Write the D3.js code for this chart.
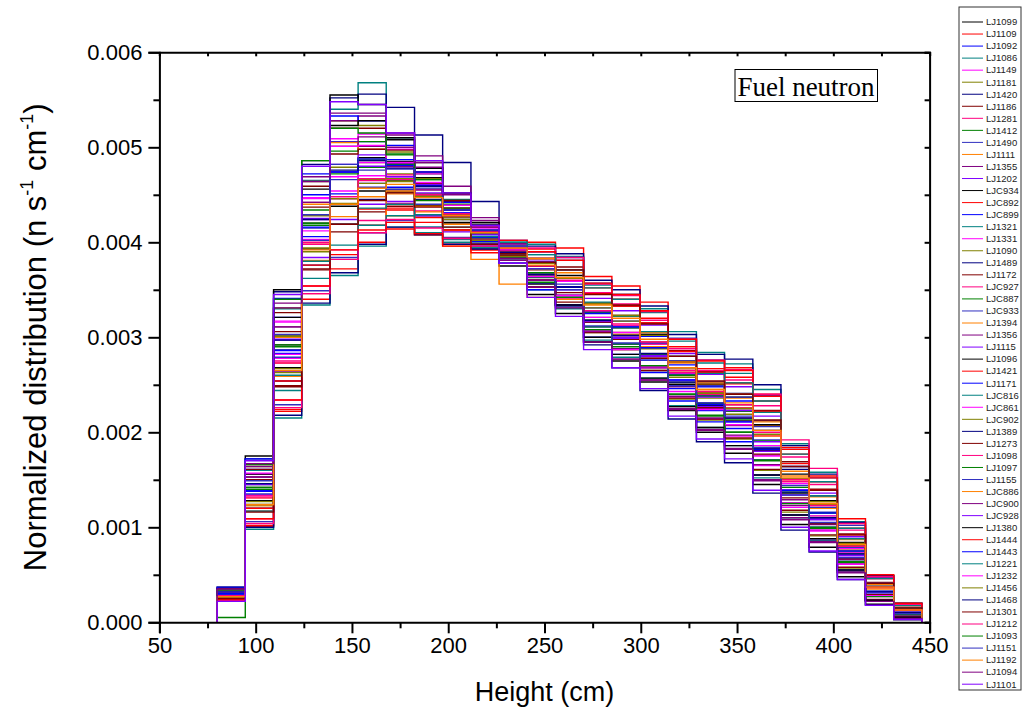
<!DOCTYPE html>
<html>
<head>
<meta charset="utf-8">
<script src="https://cdn.jsdelivr.net/npm/d3@7"></script>
<style>
  body { margin: 0; background: #fff; }
  svg { display: block; font-family: 'Liberation Sans', Arial, sans-serif; }
</style>
</head>
<body>
<svg id="chart" width="1023" height="712"></svg>
<script>
// bin edges (cm)
const binEdges = [80, 94.6, 109.3, 123.9, 138.6, 153.2, 167.8, 182.5, 197.1, 211.8, 226.4, 241.0, 255.7,
  270.3, 285.0, 299.6, 314.2, 328.9, 343.5, 358.2, 372.8, 387.4, 402.1, 416.7, 431.4, 446.0];

const seriesNames = ['LJ1099','LJ1109','LJ1092','LJ1086','LJ1149','LJ1181','LJ1420','LJ1186','LJ1281','LJ1412',
  'LJ1490','LJ1111','LJ1355','LJ1202','LJC934','LJC892','LJC899','LJ1321','LJ1331','LJ1090','LJ1489','LJ1172',
  'LJC927','LJC887','LJC933','LJ1394','LJ1356','LJ1115','LJ1096','LJ1421','LJ1171','LJC816','LJC861','LJC902',
  'LJ1389','LJ1273','LJ1098','LJ1097','LJ1155','LJC886','LJC900','LJC928','LJ1380','LJ1444','LJ1443','LJ1221',
  'LJ1232','LJ1456','LJ1468','LJ1301','LJ1212','LJ1093','LJ1151','LJ1192','LJ1094','LJ1101'];

const colorCycle = ['#000000','#ff0000','#0000ff','#008080','#ff00ff','#808000','#000080',
  '#800000','#ff0080','#008000','#3030c0','#ff8000','#800080','#8000ff'];

// normalized distribution per bin, in units of 1e-5 n s^-1 cm^-1
const distribution = [
  [31,142,292,420,474,489,485,468,443,419,394,368,353,316,300,280,250,228,212,181,136,109,71,32,10],
  [24,102,222,340,372,400,414,408,398,392,398,400,394,364,354,337,298,276,268,240,184,154,104,48,19],
  [35,161,321,450,506,506,487,462,434,408,381,357,344,311,293,276,246,223,204,171,126,100,64,28,8],
  [34,160,330,465,540,568,510,478,445,412,378,350,330,297,279,257,228,205,186,152,110,86,53,22,5],
  [28,134,278,403,454,470,469,449,427,406,391,375,359,326,312,293,262,239,225,196,146,120,78,36,12],
  [35,164,331,464,528,523,495,467,435,406,378,353,334,305,287,265,235,213,193,160,116,91,57,23,5],
  [36,172,348,482,552,556,542,513,484,443,402,360,332,292,268,244,214,190,168,136,97,74,45,18,3],
  [26,117,249,371,411,432,438,428,413,402,394,383,374,346,333,315,286,264,252,223,169,140,93,42,16],
  [24,109,234,354,392,423,441,433,420,409,402,390,381,347,335,318,288,265,255,228,174,145,97,46,18],
  [31,145,301,434,496,506,493,472,444,418,391,363,344,311,293,270,240,217,200,171,126,100,64,28,8],
  [31,139,287,415,466,476,467,451,428,409,389,368,356,326,310,290,261,239,223,192,144,116,76,33,11],
  [28,131,273,398,446,457,451,432,412,396,386,375,362,336,322,303,273,250,236,207,154,127,83,37,13],
  [35,164,331,464,528,533,515,491,459,426,388,353,334,295,277,255,225,203,183,150,110,85,53,23,5],
  [28,128,264,384,424,440,443,428,411,397,389,380,371,341,328,313,283,261,248,217,164,136,90,41,15],
  [37,175,350,486,555,545,510,478,443,410,375,345,325,295,275,253,223,200,178,145,103,79,48,19,3],
  [22,101,224,346,387,418,434,426,413,404,402,393,381,352,340,320,290,267,258,233,177,148,99,46,18],
  [30,139,283,406,451,462,458,439,419,401,386,372,362,331,317,301,271,248,233,202,151,124,81,37,13],
  [22,98,215,334,365,396,416,410,400,395,400,398,385,355,345,330,306,284,272,245,188,158,106,49,20],
  [33,156,316,447,509,514,498,472,442,413,386,360,341,306,288,268,237,214,196,165,121,96,61,27,7],
  [33,150,302,428,479,484,472,451,426,404,384,365,353,321,305,288,258,236,219,186,139,112,73,32,10],
  [26,120,254,376,419,445,456,445,428,412,399,383,371,336,323,305,275,253,241,212,161,133,88,41,15],
  [35,161,326,459,520,520,497,474,444,416,383,353,337,305,287,265,236,214,194,161,118,92,58,24,6],
  [28,131,273,398,446,467,471,456,436,416,396,375,362,326,312,293,263,240,226,197,148,121,79,37,13],
  [31,142,292,420,474,479,465,444,419,399,384,368,353,326,310,290,260,238,222,191,142,115,75,32,10],
  [24,106,229,349,384,410,423,416,405,399,397,390,384,357,345,328,299,276,266,239,182,152,102,47,19],
  [30,150,300,440,505,498,428,408,396,382,356,342,340,318,303,290,265,245,225,196,150,120,76,35,10],
  [33,153,311,442,501,501,480,455,427,403,381,360,344,316,298,278,248,225,207,176,129,103,66,28,8],
  [31,145,297,425,482,492,483,461,434,409,389,368,350,316,300,280,249,227,211,180,134,108,70,31,9],
  [28,128,268,393,438,454,453,439,421,406,391,375,365,336,322,303,274,251,237,208,156,128,84,38,14],
  [26,120,254,376,419,435,436,421,404,392,389,383,371,346,333,315,285,263,251,222,167,139,92,41,15],
  [37,172,341,472,533,528,502,474,442,411,378,350,334,300,282,263,233,211,190,155,113,88,55,23,5],
  [26,117,244,362,397,418,428,416,403,394,392,387,381,352,340,326,296,273,262,233,177,148,99,46,18],
  [29,134,282,412,469,484,478,461,436,414,394,371,353,321,305,282,252,230,215,186,139,112,73,32,10],
  [26,123,263,390,441,462,464,449,429,411,396,378,362,331,317,295,265,242,229,202,151,124,81,37,13],
  [23,100,218,336,368,398,416,408,398,393,398,396,388,360,350,333,303,282,277,250,186,156,105,49,20],
  [33,150,306,437,493,498,482,462,436,413,386,360,347,316,298,278,249,226,208,177,131,104,67,29,9],
  [23,104,226,346,382,410,424,415,404,396,398,394,384,356,344,327,298,276,266,240,192,162,104,48,19],
  [5,140,290,418,472,487,482,466,440,417,392,368,353,318,302,282,252,230,214,183,137,110,72,32,10],
  [29,135,279,402,446,458,455,440,424,410,397,379,362,327,311,294,268,249,237,206,151,121,79,37,13],
  [26,123,259,381,427,448,454,438,419,402,394,383,368,336,323,305,274,252,240,211,159,132,87,40,14],
  [33,153,311,442,501,511,500,479,451,423,391,360,344,306,288,268,238,215,197,166,123,97,62,28,8],
  [32,146,298,424,474,480,469,452,431,413,395,372,353,317,299,281,255,237,223,190,139,109,71,32,10],
  [33,156,321,456,523,528,508,484,452,421,388,356,334,300,282,257,227,205,186,155,113,88,55,23,5],
  [24,109,234,354,392,413,421,409,396,389,392,390,381,357,345,328,298,275,265,238,182,152,109,50,20],
  [30,138,286,416,474,488,481,460,431,405,383,364,353,325,311,289,255,229,211,182,139,115,75,32,10],
  [27,124,260,380,419,436,440,429,416,406,400,387,371,337,322,306,280,262,252,221,164,133,88,41,15],
  [34,157,317,446,501,502,484,463,439,417,392,364,344,307,287,269,243,224,208,175,126,97,62,28,8],
  [27,127,267,394,446,466,467,448,424,402,385,371,362,335,323,302,268,241,225,198,151,127,83,37,13],
  [32,146,297,424,476,486,478,459,434,412,389,366,353,318,302,283,253,231,215,183,137,110,72,32,10],
  [25,116,248,372,419,444,452,437,416,398,388,379,371,345,334,314,280,254,240,213,164,139,92,41,15],
  [28,133,275,400,448,465,466,450,430,411,394,375,360,328,314,295,265,243,229,200,150,123,80,37,13],
  [34,166,340,486,520,515,492,466,436,410,383,358,342,308,290,270,240,218,200,170,125,99,63,27,8],
  [32,149,303,429,482,488,477,457,434,413,395,372,350,312,294,276,249,231,217,184,134,105,68,31,9],
  [27,124,265,392,440,457,461,447,428,410,394,376,363,334,320,298,268,245,231,202,152,125,82,37,13],
  [35,167,336,469,536,536,513,484,450,416,383,353,331,295,277,255,224,202,182,149,108,84,52,22,4],
  [22,170,345,480,548,545,515,486,452,418,378,342,322,287,268,246,217,193,172,139,100,75,45,18,3]
];

const xTicks = [50, 100, 150, 200, 250, 300, 350, 400, 450];
const yTicks = [0, 0.001, 0.002, 0.003, 0.004, 0.005, 0.006];

const margin = {top: 52.3, left: 159.4};
const width = 770.2, height = 570;

const svg = d3.select('#chart');
const g = svg.append('g').attr('transform', 'translate(' + margin.left + ',' + margin.top + ')');

const x = d3.scaleLinear().domain([50, 450]).range([0, width]);
const y = d3.scaleLinear().domain([0, 0.006]).range([height, 0]);

// step outline for each series
const line = d3.line()
  .x(function(d){ return x(d[0]) })
  .y(function(d){ return y(d[1]) })
  .curve(d3.curveStepAfter);

distribution.forEach(function(row, i){
  const pts = [[binEdges[0], 0]];
  row.forEach(function(v, j){ pts.push([binEdges[j], v * 1e-5]) });
  pts.push([binEdges[binEdges.length - 1], row[row.length - 1] * 1e-5]);
  pts.push([binEdges[binEdges.length - 1], 0]);
  g.append('path')
    .datum(pts)
    .attr('fill', 'none')
    .attr('stroke', colorCycle[i % colorCycle.length])
    .attr('stroke-width', 1.4)
    .attr('d', line);
});

// minor ticks
const xMinor = xTicks.slice(0, -1).map(function(d){ return d + 25 });
const yMinor = yTicks.slice(0, -1).map(function(d){ return d + 0.0005 });

g.append('g').attr('transform', 'translate(0,' + height + ')')
  .call(d3.axisBottom(x).tickValues(xMinor).tickSize(6).tickFormat(''))
  .call(function(a){ a.select('.domain').remove() });
g.append('g')
  .call(d3.axisLeft(y).tickValues(yMinor).tickSize(6).tickFormat(''))
  .call(function(a){ a.select('.domain').remove() });

// top and right frame with small inward ticks
g.append('g')
  .call(d3.axisTop(x).tickValues(xTicks.concat(xMinor)).tickSize(-4).tickFormat(''));
g.append('g').attr('transform', 'translate(' + width + ',0)')
  .call(d3.axisRight(y).tickValues(yTicks.concat(yMinor)).tickSize(-5).tickFormat(''));

g.append('g').attr('transform', 'translate(0,' + height + ')')
  .call(d3.axisBottom(x).tickValues(xTicks).tickSize(11).tickPadding(4).tickFormat(d3.format('d')));
g.append('g')
  .call(d3.axisLeft(y).tickValues(yTicks).tickSize(11).tickPadding(6).tickFormat(d3.format('.3f')));

g.selectAll('.domain, .tick line').attr('stroke', '#000').attr('stroke-width', 2);
g.selectAll('.tick text').attr('font-family', "'Liberation Sans', Arial, sans-serif")
  .attr('font-size', '22px').attr('fill', '#000');

// axis titles
svg.append('text')
  .attr('x', margin.left + width / 2)
  .attr('y', 701)
  .attr('text-anchor', 'middle')
  .attr('font-size', '27px')
  .text('Height (cm)');

const yTitle = svg.append('text')
  .attr('transform', 'translate(46,' + (margin.top + height / 2) + ') rotate(-90)')
  .attr('text-anchor', 'middle')
  .attr('font-size', '31px');
yTitle.append('tspan').text('Normalized distribution (n s');
yTitle.append('tspan').attr('font-size', '18px').attr('dy', -13).text('-1');
yTitle.append('tspan').attr('dy', 13).text(' cm');
yTitle.append('tspan').attr('font-size', '18px').attr('dy', -13).text('-1');
yTitle.append('tspan').attr('dy', 13).text(')');

// label box
svg.append('rect')
  .attr('x', 735).attr('y', 69.5).attr('width', 142.5).attr('height', 32)
  .attr('fill', '#fff').attr('stroke', '#000').attr('stroke-width', 1);
svg.append('text')
  .attr('x', 806).attr('y', 96)
  .attr('text-anchor', 'middle')
  .attr('font-family', "'Liberation Serif', 'Times New Roman', serif")
  .attr('font-size', '27px')
  .text('Fuel neutron');

// legend
const legend = svg.append('g').attr('transform', 'translate(959,7)');
legend.append('rect')
  .attr('width', 62).attr('height', 683)
  .attr('fill', '#fff').attr('stroke', '#333').attr('stroke-width', 1);

seriesNames.forEach(function(name, i){
  const ly = 15 + i * 12.04;
  legend.append('line')
    .attr('x1', 3).attr('x2', 24).attr('y1', ly).attr('y2', ly)
    .attr('stroke', colorCycle[i % colorCycle.length]).attr('stroke-width', 1);
  legend.append('text')
    .attr('x', 27).attr('y', ly)
    .attr('dy', '0.35em')
    .attr('font-size', '9.5px')
    .attr('fill', '#222')
    .text(name);
});
</script>
</body>
</html>
